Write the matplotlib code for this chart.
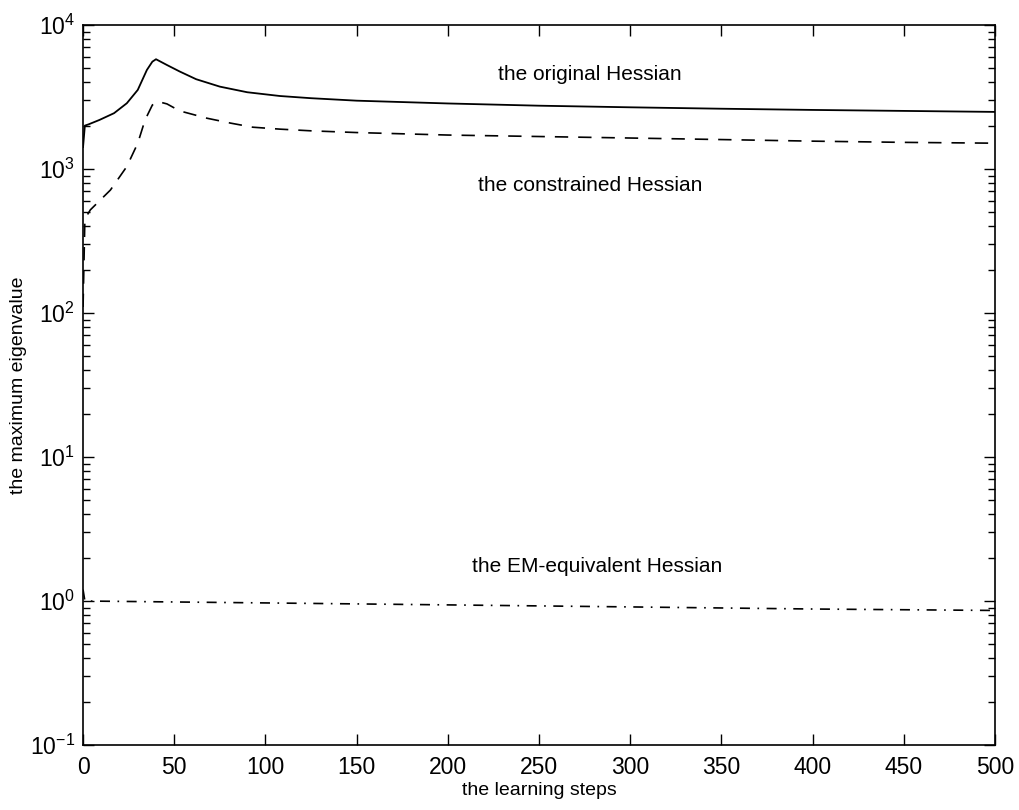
import numpy as np
import matplotlib
matplotlib.use('Agg')
import matplotlib.pyplot as plt
from matplotlib.ticker import LogLocator, NullFormatter

plt.rcParams['font.family'] = ['Liberation Sans', 'DejaVu Sans']
plt.rcParams['mathtext.fontset'] = 'custom'
plt.rcParams['mathtext.rm'] = 'Liberation Sans'
plt.rcParams['mathtext.default'] = 'regular'
plt.rcParams['axes.unicode_minus'] = False

#%% data
steps_orig = [0, 1, 3, 9, 17, 24, 30, 35, 38, 40, 46, 53, 62, 75, 90, 108,
              125, 150, 200, 250, 300, 350, 400, 450, 500]
orig_hessian = [1420, 2000, 2040, 2190, 2440, 2860, 3540, 4870, 5560, 5780, 5270,
                4750, 4200, 3730, 3410, 3210, 3100, 2980, 2850, 2750, 2680, 2620,
                2570, 2530, 2490]

steps_cons = [0, 1, 4, 15, 24, 30, 34, 38, 41, 46, 53, 68, 81, 93, 108, 125,
              150, 200, 250, 300, 350, 400, 450, 500]
cons_hessian = [110, 450, 520, 714, 1040, 1510, 2190, 2780, 2940, 2830, 2530,
                2250, 2080, 1950, 1890, 1840, 1790, 1720, 1680, 1640, 1600, 1560,
                1530, 1510]

steps_em = [0, 1, 100, 200, 300, 400, 500]
em_hessian = [1.2, 1.0, 0.97, 0.94, 0.91, 0.88, 0.86]

#%% plot
fig = plt.figure(figsize=(10.19, 8.10), dpi=100)
ax = fig.add_axes([0.0815, 0.0802, 0.895, 0.889])

ax.semilogy(steps_orig, orig_hessian, color='black', lw=1.3)
ax.semilogy(steps_cons, cons_hessian, color='black', lw=1.2, dashes=(8, 6))
ax.semilogy(steps_em, em_hessian, color='black', lw=1.2, dashes=(6, 4.5, 1, 4.5))

ax.set_xlim(0, 500)
ax.set_ylim(1e-1, 1e4)
ax.set_xticks(np.arange(0, 501, 50))
ax.yaxis.set_major_locator(LogLocator(base=10, numticks=10))
ax.yaxis.set_minor_locator(LogLocator(base=10, subs=np.arange(2, 10), numticks=10))
ax.yaxis.set_minor_formatter(NullFormatter())

ax.tick_params(which='both', direction='in', top=True, right=True, labelsize=16.5)
ax.tick_params(axis='x', pad=8)
ax.tick_params(axis='y', pad=6)
ax.tick_params(which='major', length=8, width=1)
ax.tick_params(which='minor', length=5, width=1)
for s in ax.spines.values():
    s.set_linewidth(1.2)

ax.set_xlabel('the learning steps', fontsize=14, labelpad=2)
ax.set_ylabel('the maximum eigenvalue', fontsize=14, labelpad=2)

ax.text(278, 4500, 'the original Hessian', fontsize=15, ha='center', va='center')
ax.text(278, 770, 'the constrained Hessian', fontsize=15, ha='center', va='center')
ax.text(282, 1.75, 'the EM-equivalent Hessian', fontsize=15, ha='center', va='center')

fig.savefig('out.png', dpi=100)
